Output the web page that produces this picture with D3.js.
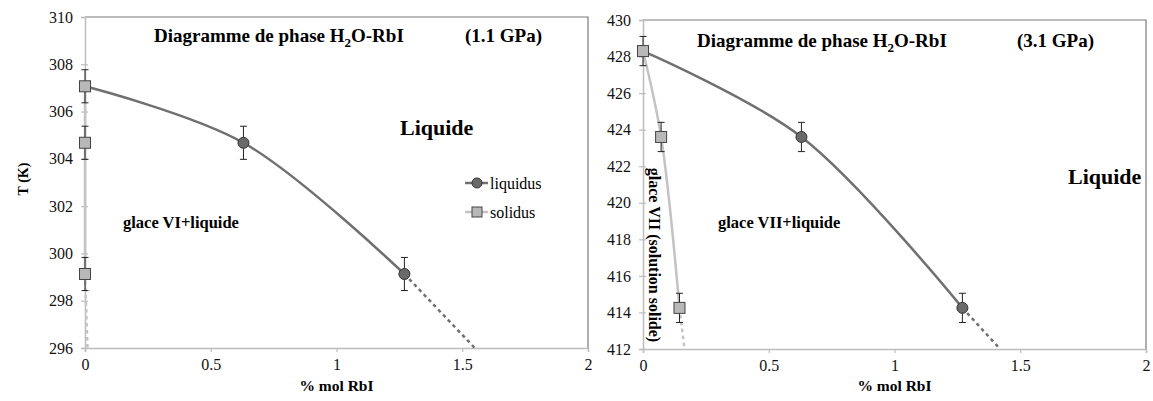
<!DOCTYPE html>
<html>
<head>
<meta charset="utf-8">
<script src="https://cdn.jsdelivr.net/npm/d3@7"></script>
<style>
  body { margin: 0; background: #fff; }
</style>
</head>
<body>
<svg id="chart" width="1153" height="401"></svg>
<script>
// ---- data ----
const xTicks = [0, 0.5, 1, 1.5, 2];
const yTicksA = [296, 298, 300, 302, 304, 306, 308, 310];
const yTicksB = [412, 414, 416, 418, 420, 422, 424, 426, 428, 430];

// 1.1 GPa
const liqA_x = [0, 0.63, 1.27];
const liqA_T = [307.07, 304.68, 299.13];
const liqA_extX = [1.27, 1.55];
const liqA_extT = [299.13, 296];
const solA_x = [0, 0, 0];
const solA_T = [307.07, 304.68, 299.13];
const solA_extX = [0, 0.01];
const solA_extT = [299.13, 296];
const errA = 0.7;

// 3.1 GPa
const liqB_x = [0, 0.63, 1.27];
const liqB_T = [428.3, 423.6, 414.25];
const liqB_extX = [1.27, 1.42];
const liqB_extT = [414.25, 412];
const solB_x = [0, 0.072, 0.145];
const solB_T = [428.3, 423.6, 414.25];
const solB_extX = [0.145, 0.165];
const solB_extT = [414.25, 412];
const errB = 0.8;

const seriesNames = ['liquidus', 'solidus'];

// colours + font
const cLiq = '#707070', cSol = '#c3c3c3', cAxis = '#bdbdbd', cBox = '#7a7a7a';
const serif = '"Liberation Serif", "Times New Roman", Times, "DejaVu Serif", serif';

const svg = d3.select('#chart').style('font-family', serif);
svg.append('rect').attr('width', 1153).attr('height', 401).attr('fill', '#fff');

const zip = (xs, ts) => xs.map((x, i) => ({x: x, t: ts[i]}));

function label(sel, txt, size, bold) {
  return sel.append('text').text(txt)
    .style('font-family', serif)
    .style('font-size', size + 'px')
    .style('font-weight', bold ? 'bold' : 'normal')
    .attr('fill', '#000');
}

function drawPanel(cfg) {
  const x = d3.scaleLinear().domain([0, 2]).range([cfg.left, cfg.right]);
  const y = d3.scaleLinear().domain(cfg.yDomain).range([cfg.bottom, cfg.top]);
  const g = svg.append('g');

  // box (top + right)
  g.append('path')
    .attr('d', `M${cfg.left},${cfg.top} H${cfg.right} V${cfg.bottom}`)
    .attr('fill', 'none').attr('stroke', cBox).attr('stroke-width', 1.2);

  // axes
  const yAxis = g.append('g')
    .attr('transform', `translate(${cfg.left},0)`)
    .call(d3.axisLeft(y).tickValues(cfg.yTicks).tickSize(4).tickPadding(8).tickFormat(d3.format('d')));
  yAxis.selectAll('.tick line').attr('x1', 3);

  const xAxis = g.append('g')
    .attr('transform', `translate(0,${cfg.bottom})`)
    .call(d3.axisBottom(x).tickValues(xTicks).tickSize(4).tickPadding(7).tickFormat(d => d));

  [yAxis, xAxis].forEach(a => {
    a.attr('font-family', null).attr('font-size', null);
    a.select('.domain').attr('stroke', cAxis).attr('stroke-width', 1.5);
    a.selectAll('.tick line').attr('stroke', cAxis).attr('stroke-width', 1.2);
    a.selectAll('.tick text')
      .style('font-family', serif).style('font-size', '16px').attr('fill', '#111');
  });

  const smooth = d3.line().x(d => x(d.x)).y(d => y(d.t)).curve(d3.curveCatmullRom.alpha(0.5));
  const straight = d3.line().x(d => x(d.x)).y(d => y(d.t));

  const liq = zip(cfg.liqX, cfg.liqT);
  const sol = zip(cfg.solX, cfg.solT);

  // solidus
  g.append('path').attr('d', smooth(sol))
    .attr('fill', 'none').attr('stroke', cSol).attr('stroke-width', 2.5);
  g.append('path').attr('d', straight(zip(cfg.solExtX, cfg.solExtT)))
    .attr('fill', 'none').attr('stroke', cSol).attr('stroke-width', 2.5).attr('stroke-dasharray', '3.5,3.5');

  // liquidus
  g.append('path').attr('d', smooth(liq))
    .attr('fill', 'none').attr('stroke', cLiq).attr('stroke-width', 2.5);
  g.append('path').attr('d', straight(zip(cfg.liqExtX, cfg.liqExtT)))
    .attr('fill', 'none').attr('stroke', cLiq).attr('stroke-width', 2.5).attr('stroke-dasharray', '3.5,3.5');

  // error bars
  const pts = liq.slice(1).concat(sol);
  const eb = g.selectAll('.eb').data(pts).join('g').attr('class', 'eb')
    .attr('stroke', '#222').attr('stroke-width', 1);
  eb.append('line')
    .attr('x1', d => x(d.x)).attr('x2', d => x(d.x))
    .attr('y1', d => y(d.t + cfg.err)).attr('y2', d => y(d.t - cfg.err));
  [1, -1].forEach(s => {
    eb.append('line')
      .attr('x1', d => x(d.x) - 3.5).attr('x2', d => x(d.x) + 3.5)
      .attr('y1', d => y(d.t + s * cfg.err)).attr('y2', d => y(d.t + s * cfg.err));
  });

  // markers
  g.selectAll('.liqPt').data(liq.slice(1)).join('circle')
    .attr('class', 'liqPt')
    .attr('cx', d => x(d.x)).attr('cy', d => y(d.t)).attr('r', 5.5)
    .attr('fill', '#6a6a6a').attr('stroke', '#333').attr('stroke-width', 1);
  g.selectAll('.solPt').data(sol).join('rect')
    .attr('class', 'solPt')
    .attr('x', d => x(d.x) - 5.5).attr('y', d => y(d.t) - 5.5)
    .attr('width', 11).attr('height', 11)
    .attr('fill', '#b8b8b8').attr('stroke', '#444').attr('stroke-width', 1);

  // titles
  const title = label(g, null, 19, true).attr('x', cfg.titleX).attr('y', cfg.titleY);
  title.append('tspan').text('Diagramme de phase H');
  title.append('tspan').text('2').attr('dy', 5).style('font-size', '13px');
  title.append('tspan').text('O-RbI').attr('dy', -5);

  label(g, cfg.pressure, 19, true).attr('x', cfg.pressX).attr('y', cfg.titleY);

  label(g, 'Liquide', 22, true).attr('x', cfg.liqLabel[0]).attr('y', cfg.liqLabel[1]);

  label(g, cfg.glace, 16.5, true).attr('x', cfg.glaceLabel[0]).attr('y', cfg.glaceLabel[1]);

  label(g, '% mol RbI', 15.5, true)
    .attr('x', (cfg.left + cfg.right) / 2).attr('y', 391)
    .attr('text-anchor', 'middle');

  return {x: x, y: y, g: g};
}

const A = drawPanel({
  left: 85, right: 588, top: 17, bottom: 348, yDomain: [296, 310], yTicks: yTicksA,
  liqX: liqA_x, liqT: liqA_T, liqExtX: liqA_extX, liqExtT: liqA_extT,
  solX: solA_x, solT: solA_T, solExtX: solA_extX, solExtT: solA_extT, err: errA,
  titleX: 154, titleY: 42, pressure: '(1.1 GPa)', pressX: 465,
  liqLabel: [400, 135], glace: 'glace VI+liquide', glaceLabel: [123, 228]
});

const B = drawPanel({
  left: 643, right: 1146, top: 20, bottom: 349, yDomain: [412, 430], yTicks: yTicksB,
  liqX: liqB_x, liqT: liqB_T, liqExtX: liqB_extX, liqExtT: liqB_extT,
  solX: solB_x, solT: solB_T, solExtX: solB_extX, solExtT: solB_extT, err: errB,
  titleX: 697, titleY: 47, pressure: '(3.1 GPa)', pressX: 1017,
  liqLabel: [1068, 184], glace: 'glace VII+liquide', glaceLabel: [718, 228]
});

// y axis title (left only)
label(svg, 'T (K)', 14, true)
  .attr('transform', 'translate(28,179) rotate(-90)')
  .attr('text-anchor', 'middle');

// rotated label on the right panel
label(B.g, 'glace VII (solution solide)', 16, true)
  .attr('transform', 'translate(649,255) rotate(90)')
  .attr('text-anchor', 'middle');

// legend (left panel)
const leg = A.g.append('g').attr('transform', 'translate(465,183)');
seriesNames.forEach((name, i) => {
  const row = leg.append('g').attr('transform', `translate(0,${i * 29})`);
  row.append('line').attr('x1', 0).attr('x2', 23).attr('y1', 0).attr('y2', 0)
    .attr('stroke', i === 0 ? cLiq : cSol).attr('stroke-width', 2.5);
  if (i === 0) {
    row.append('circle').attr('cx', 12).attr('cy', 0).attr('r', 5)
      .attr('fill', '#6a6a6a').attr('stroke', '#333');
  } else {
    row.append('rect').attr('x', 7).attr('y', -5).attr('width', 10).attr('height', 10)
      .attr('fill', '#b8b8b8').attr('stroke', '#444');
  }
  label(row, name, 16, false).attr('x', 25).attr('y', 6);
});
</script>
</body>
</html>
